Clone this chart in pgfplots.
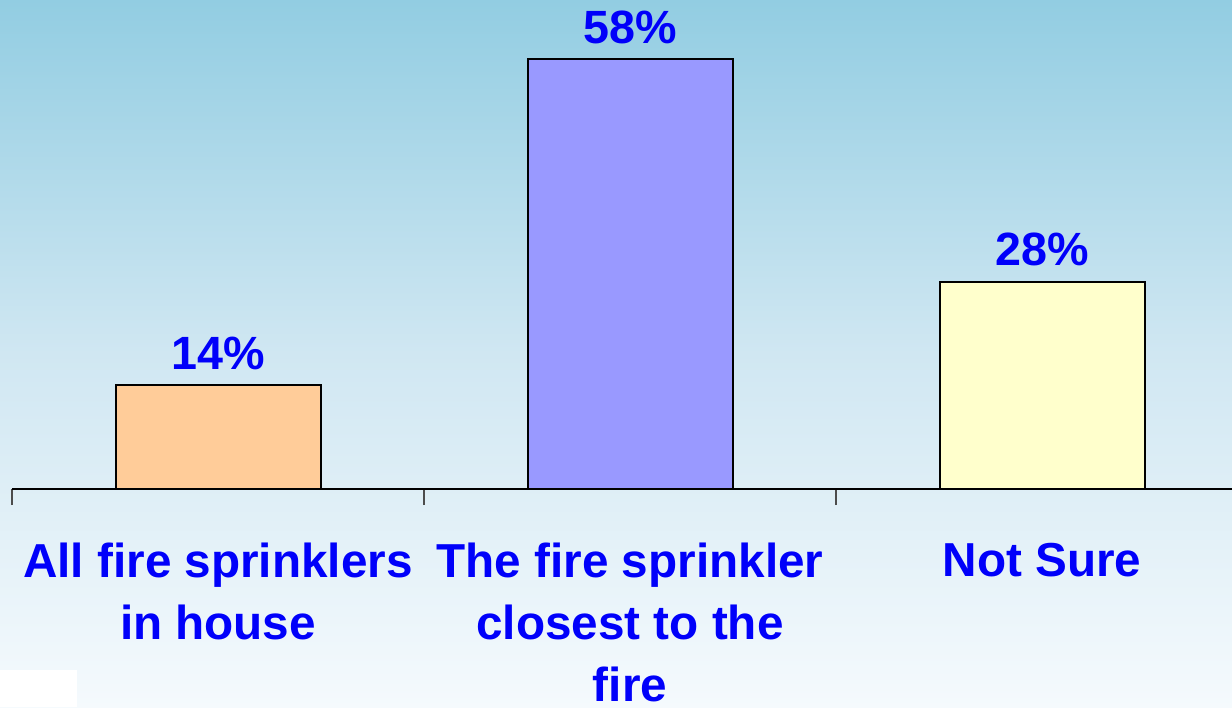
\documentclass[border=0pt]{standalone}
\usepackage{pgfplots}
\pgfplotsset{compat=1.18}
\usepackage{fontspec}
\setmainfont{Liberation Sans}
\definecolor{bgtop}{RGB}{146,205,226}
\definecolor{bgmid}{RGB}{208,231,242}
\definecolor{bgbot}{RGB}{245,250,253}
\definecolor{barA}{RGB}{255,204,153}
\definecolor{barB}{RGB}{153,153,255}
\definecolor{barC}{RGB}{255,255,204}
\definecolor{lblue}{RGB}{0,0,250}
\begin{document}
\begin{tikzpicture}
\path[use as bounding box] (0pt,0pt) rectangle (369.6pt,212.1pt);
\clip (0pt,0pt) rectangle (369.6pt,212.1pt);
\shade[top color=bgtop, bottom color=bgbot, middle color=bgmid] (0pt,0pt) rectangle (369.6pt,212.1pt);
\fill[white] (0pt,0pt) rectangle (23.1pt,11.1pt);
\begin{axis}[
  at={(3.6pt,65.4pt)}, anchor=south west,
  width=370.8pt, height=146.7pt, scale only axis,
  xmin=-0.5, xmax=2.5, ymin=0, ymax=66,
  axis x line*=bottom, axis y line=none, ytick=\empty,
  x axis line style={line width=0.6pt},
  xtick={0,1,2},
  xticklabels={{All fire sprinklers\\in house},{The fire sprinkler\\closest to the\\fire},{Not Sure}},
  xticklabel style={align=center, font=\fontsize{14.3}{18.6}\selectfont\bfseries, text=lblue, yshift=-12.6pt},
  major tick length=0pt,
  minor xtick={-0.5,0.5,1.5,2.5},
  minor tick length=4.8pt,
  tick align=outside,
  minor tick style={line width=0.45pt, color=black!70},
  ybar, bar width=61.5pt, bar shift=0pt,
  nodes near coords={\pgfmathprintnumber[assume math mode=true]{\pgfplotspointmeta}\%},
  nodes near coords style={font=\fontsize{14}{17}\selectfont\bfseries, text=lblue, yshift=1pt},
  clip=false,
]
\addplot[fill=barA, draw=black, line width=0.6pt] coordinates {(0,14)};
\addplot[fill=barB, draw=black, line width=0.6pt] coordinates {(1,58)};
\addplot[fill=barC, draw=black, line width=0.6pt] coordinates {(2,28)};
\end{axis}
\end{tikzpicture}
\end{document}
